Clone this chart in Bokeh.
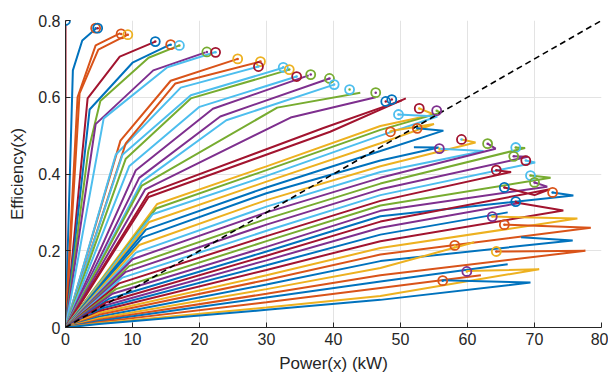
from bokeh.plotting import figure
from bokeh.models import FixedTicker
from bokeh.embed import file_html
from bokeh.resources import INLINE

B, O, Y, P, G, LB, DR = "#0072BD", "#D95319", "#EDB120", "#7E2F8E", "#77AC30", "#4DBEEE", "#A2142F"

# ---- efficiency curves (power kW, efficiency) ----
curve_colors = [DR, B, O, O, DR, B, G, P, LB, O, LB, O, LB, G, LB, P, P, LB, G, P, DR, DR,
                Y, G, LB, Y, B, B, Y, LB, P, G, P, LB, DR, G, P, B, DR, P, B, DR, Y, O, B, Y, O, B, O, Y, B]
curve_x = [
    [0, 0], [0, 1.1, 2.5, 4.6], [0, 1.8, 4.5, 8.2], [0, 2.1, 4.9, 9.3], [0, 3.3, 8.1, 13.4],
    [0, 3.6, 10.0, 15.6], [0, 3.4, 5.2, 12.4, 17.0], [0, 4.5, 13.1, 20.9], [0, 5.7, 15.2, 22.4],
    [0, 8.2, 15.7, 25.7], [0, 7.5, 17.2, 28.8], [0, 9.0, 16.4, 29.1], [0, 8.5, 18.7, 32.5],
    [0, 9.0, 18.7, 33.4], [0, 9.5, 20.0, 34.5], [0, 10.5, 22.0, 36.3], [0, 11.0, 23.1, 39.4],
    [0, 11.4, 24.0, 40.1], [0, 11.4, 31.6, 44.0], [0, 11.9, 33.6, 46.3], [0, 12.4, 38.5, 50.2],
    [0, 12.4, 39.5, 50.8],
    [0, 13.7, 30, 47, 55.0, 52.8], [0, 13.5, 30, 47, 56.0, 55.4], [0, 13.0, 30, 47, 55.5, 49.7],
    [0, 12.5, 30, 47, 55.0, 48.5], [0, 12.0, 30, 47, 56.4, 52.5], [0, 11.5, 30, 47, 55.7, 52.0],
    [0, 11.0, 30, 47, 61.2, 59.1], [0, 10.5, 30, 47, 62.4, 55.8], [0, 10.0, 30, 47, 64.2, 63.0],
    [0, 9.5, 30, 47, 68.6, 67.2], [0, 9.0, 30, 47, 69.0, 66.9], [0, 8.5, 30, 47, 70.1, 68.7],
    [0, 8.0, 30, 47, 66.5, 64.3], [0, 7.5, 30, 47, 72.4, 69.4], [0, 7.0, 30, 47, 71.9, 70.0],
    [0, 6.5, 30, 47, 75.8, 72.7], [0, 6.0, 30, 47, 72.3, 70.0, 65.5], [0, 6.0, 30, 47, 68.0],
    [0, 5.5, 30, 47, 66.0], [0, 5.5, 30, 47, 74.3, 67.2], [0, 5.0, 30, 47, 76.4, 63.7],
    [0, 5.0, 30, 47, 78.4, 65.5], [0, 5.0, 30, 47, 75.7, 68.0], [0, 5.0, 30, 47, 61.0],
    [0, 5.0, 30, 47, 77.6, 64.3], [0, 5.0, 30, 47, 66.0], [0, 5.0, 30, 47, 62.0],
    [0, 5.0, 30, 47, 70.7, 59.9], [0, 5.0, 30, 47, 69.4, 56.3],
]
curve_y = [
    [0, 0.79], [0, 0.67, 0.748, 0.78], [0, 0.60, 0.735, 0.767], [0, 0.61, 0.724, 0.763], [0, 0.597, 0.706, 0.745],
    [0, 0.568, 0.69, 0.737], [0, 0.46, 0.59, 0.703, 0.735], [0, 0.53, 0.67, 0.717], [0, 0.545, 0.678, 0.718],
    [0, 0.487, 0.643, 0.70], [0, 0.45, 0.625, 0.68], [0, 0.48, 0.636, 0.693], [0, 0.45, 0.605, 0.677],
    [0, 0.44, 0.597, 0.672], [0, 0.42, 0.575, 0.654], [0, 0.41, 0.57, 0.657], [0, 0.39, 0.55, 0.649],
    [0, 0.38, 0.54, 0.633], [0, 0.37, 0.573, 0.612], [0, 0.36, 0.547, 0.60], [0, 0.35, 0.52, 0.592],
    [0, 0.34, 0.51, 0.597],
    [0, 0.322, 0.42, 0.525, 0.555, 0.571], [0, 0.31, 0.41, 0.515, 0.56, 0.565], [0, 0.295, 0.395, 0.50, 0.55, 0.555],
    [0, 0.275, 0.38, 0.48, 0.53, 0.512], [0, 0.255, 0.365, 0.46, 0.513, 0.519], [0, 0.235, 0.35, 0.435, 0.469, 0.47],
    [0, 0.215, 0.332, 0.42, 0.482, 0.49], [0, 0.195, 0.315, 0.405, 0.46, 0.466], [0, 0.178, 0.30, 0.39, 0.466, 0.479],
    [0, 0.16, 0.283, 0.375, 0.468, 0.469], [0, 0.145, 0.268, 0.36, 0.445, 0.446], [0, 0.13, 0.252, 0.345, 0.43, 0.435],
    [0, 0.115, 0.238, 0.33, 0.405, 0.41], [0, 0.10, 0.225, 0.318, 0.39, 0.396], [0, 0.088, 0.21, 0.304, 0.367, 0.378],
    [0, 0.075, 0.198, 0.29, 0.344, 0.352], [0, 0.065, 0.187, 0.276, 0.36, 0.345, 0.365], [0, 0.058, 0.175, 0.26, 0.325],
    [0, 0.05, 0.162, 0.242, 0.30], [0, 0.045, 0.15, 0.225, 0.305, 0.326], [0, 0.038, 0.136, 0.207, 0.284, 0.289],
    [0, 0.033, 0.124, 0.19, 0.26, 0.268], [0, 0.028, 0.112, 0.173, 0.227, 0.235], [0, 0.024, 0.10, 0.155, 0.222],
    [0, 0.02, 0.088, 0.136, 0.20, 0.198], [0, 0.017, 0.078, 0.12, 0.165], [0, 0.014, 0.066, 0.103, 0.136],
    [0, 0.011, 0.052, 0.082, 0.152, 0.147], [0, 0.009, 0.046, 0.072, 0.117, 0.123],
]

# ---- optimum markers ----
opt_x = [0, 4.5, 4.8, 8.3, 9.3, 13.4, 15.7, 17.0, 21.1, 22.4, 25.7, 29.1, 28.8, 32.5, 33.4, 34.5, 36.6,
         39.4, 40.1, 42.4, 46.3, 47.8, 48.7,
         49.7, 52.8, 55.4, 48.5, 52.5, 59.1, 55.8, 63.0, 67.2, 66.9, 68.7, 64.3, 69.4, 70.0, 72.7, 65.5,
         67.2, 63.7, 65.5, 58.1, 64.3, 59.9, 56.3]
opt_y = [0.80, 0.78, 0.78, 0.765, 0.763, 0.745, 0.737, 0.735, 0.718, 0.717, 0.70, 0.693, 0.68, 0.678, 0.672,
         0.654, 0.659, 0.649, 0.633, 0.62, 0.612, 0.589, 0.594,
         0.555, 0.571, 0.565, 0.51, 0.519, 0.49, 0.466, 0.479, 0.469, 0.446, 0.435, 0.41, 0.396, 0.378,
         0.352, 0.365, 0.328, 0.289, 0.268, 0.214, 0.198, 0.146, 0.122]
opt_colors = [B, O, B, O, Y, B, O, LB, G, DR, Y, Y, DR, LB, Y, DR, G, G, LB, LB, G, B, B,
              LB, DR, P, O, O, DR, P, G, LB, G, DR, DR, LB, G, O, B, B, P, O, O, Y, P, O]
dot_colors = [DR, B, DR, O, O, DR, B, G, P, LB, O, O, LB, LB, G, LB, P, P, LB, G, P, DR, DR,
              LB, Y, G, Y, B, LB, Y, P, G, P, LB, DR, G, P, B, DR, DR, Y, O, Y, O, Y, B]

ref_x = [0, 80]
ref_y = [0, 0.8]

x_ticks = [0, 10, 20, 30, 40, 50, 60, 70, 80]
y_ticks = [0, 0.2, 0.4, 0.6, 0.8]
y_tick_labels = ["0", "0.2", "0.4", "0.6", "0.8"]

p = figure(width=608, height=375, x_range=(0, 80), y_range=(0, 0.8),
           output_backend="svg", toolbar_location=None,
           min_border_left=65, min_border_right=7, min_border_top=20, min_border_bottom=48)
p.outline_line_color = None

p.multi_line(curve_x, curve_y, line_color=curve_colors, line_width=2)
p.line(ref_x, ref_y, line_color="black", line_width=1.6, line_dash="6 4")
p.scatter(opt_x, opt_y, marker="circle", size=9, fill_color=None, line_color=opt_colors, line_width=1.8)
p.scatter(opt_x, opt_y, marker="circle", size=2.5, fill_color=dot_colors, line_color=None)

for ax in (p.xaxis, p.yaxis):
    ax.major_tick_in = 5
    ax.major_tick_out = 0
    ax.minor_tick_in = 0
    ax.minor_tick_out = 0
    ax.axis_line_color = "#262626"
    ax.major_tick_line_color = "#262626"
    ax.major_label_text_font = "Liberation Sans"
    ax.major_label_text_font_size = "16px"
    ax.major_label_text_color = "#262626"
    ax.axis_label_text_font = "Liberation Sans"
    ax.axis_label_text_font_size = "17px"
    ax.axis_label_text_font_style = "normal"
    ax.axis_label_text_color = "#262626"

p.xaxis.ticker = FixedTicker(ticks=x_ticks)
p.yaxis.ticker = FixedTicker(ticks=y_ticks)
p.yaxis.major_label_overrides = {t: s for t, s in zip(y_ticks, y_tick_labels)}
p.xaxis.axis_label = "Power(x) (kW)"
p.yaxis.axis_label = "Efficiency(x)"
p.xaxis.axis_label_standoff = 6
p.yaxis.axis_label_standoff = 8

p.xgrid.ticker = FixedTicker(ticks=x_ticks)
p.ygrid.ticker = FixedTicker(ticks=y_ticks)
p.grid.grid_line_color = "#e3e3e3"
p.grid.grid_line_width = 1

open("out.html", "w").write(file_html(p, INLINE))
